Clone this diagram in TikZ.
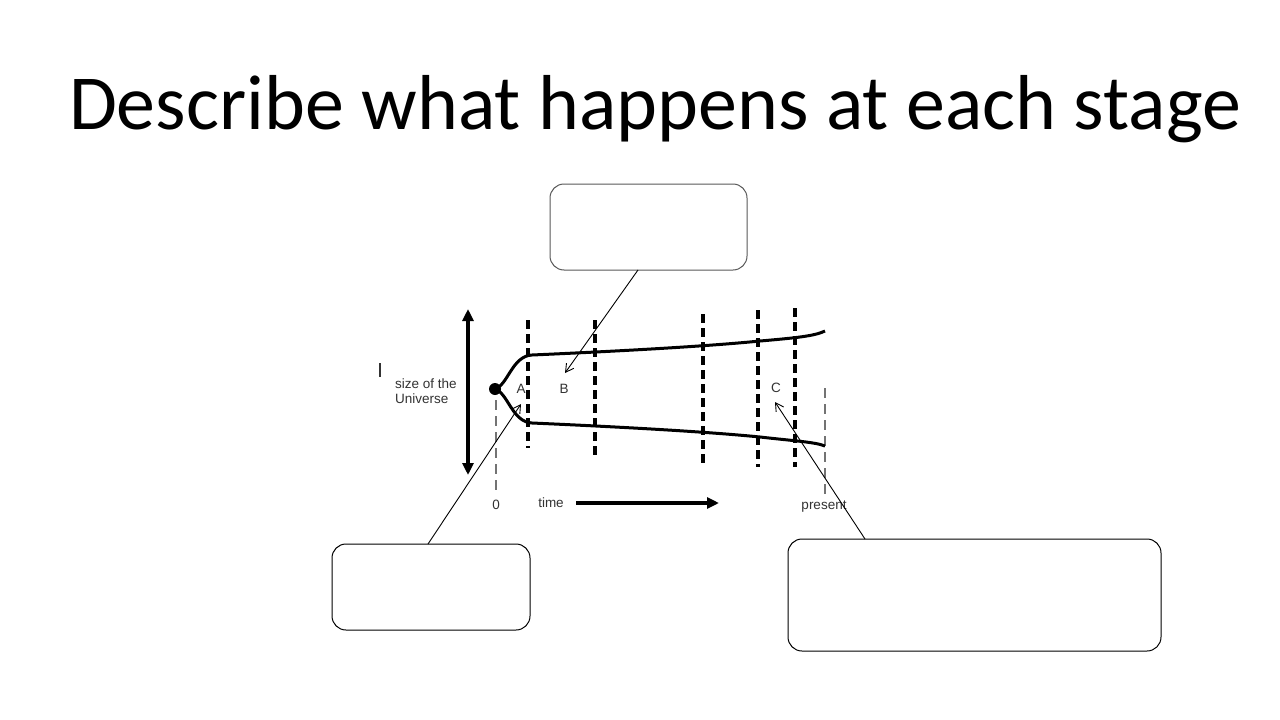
\documentclass[tikz,border=0pt]{standalone}
\usepackage{fontspec}
\setmainfont{Carlito}
\newfontfamily\diagfont{Liberation Sans}
\usetikzlibrary{arrows.meta}
\begin{document}
\begin{tikzpicture}[x=1pt,y=-1pt,
  answerbox/.style={draw, rounded corners=14pt, line width=1pt, inner sep=0pt},
  pointer/.style={black, line width=0.9pt, -{Straight Barb[length=8pt,width=9pt]}},
  stageline/.style={black, line width=3.2pt, dash pattern=on 9pt off 5pt},
  markline/.style={black!55, line width=1.2pt, dash pattern=on 10pt off 6pt},
  curve/.style={black, line width=3pt},
  lbl/.style={font=\diagfont\fontsize{13.5}{15.5}\selectfont, text=black!80, inner sep=0pt},
  thickarrow/.style={black, line width=3.2pt, -{Triangle[length=12pt,width=11pt]}}
]
\useasboundingbox (0,0) rectangle (1280,720);
\fill[white] (0,0) rectangle (1280,720);

% title
\node[anchor=base, inner sep=0pt, font=\fontsize{77.9}{94}\selectfont] (title) at (655,129) {Describe what happens at each stage};

% answer boxes
\node[answerbox, draw=black!65, minimum width=197pt, minimum height=86pt] (topbox) at (648.5,227) {};
\node[answerbox, minimum width=198pt, minimum height=86pt] (leftbox) at (431,587) {};
\node[answerbox, minimum width=373pt, minimum height=112pt] (rightbox) at (974.5,595) {};

% diagram: size arrow
\coordinate (sizetop) at (468,309);
\coordinate (sizebot) at (468,475);
\draw[black, line width=3.2pt, {Triangle[length=12pt,width=11pt]}-{Triangle[length=12pt,width=11pt]}] (sizetop) -- (sizebot);
\draw[black!80, line width=1.2pt] (380,363) -- (380,377);
\node[lbl, align=left, anchor=west] (sizelbl) at (395,391) {size of the\\Universe};

% thin grey markers
\coordinate (zt) at (496,400); \coordinate (zb) at (496,494);
\draw[markline] (zt) -- (zb);
\coordinate (pt) at (825,388); \coordinate (pb) at (825,497);
\draw[markline] (pt) -- (pb);

% stage lines
\foreach \x/\a/\b in {528/320/448, 595/320/458, 703/314/464, 758/310/467, 795/308/467}{
  \draw[stageline] (\x,\a) -- (\x,\b);
}

% universe curves
\node[circle, fill=black, minimum size=12pt, inner sep=0pt] (bang) at (495,389) {};
\draw[curve] (bang.center) .. controls (508,385) and (512,356) .. (532,355)
  .. controls (600,352) and (700,347) .. (760,341)
  .. controls (795,338) and (815,336) .. (825,331);
\draw[curve] (bang.center) .. controls (508,393) and (512,422) .. (532,423)
  .. controls (600,426) and (700,431) .. (760,437)
  .. controls (795,441) and (815,442) .. (825,446);

% labels
\node[lbl] (la) at (521,389) {A};
\node[lbl] (lb) at (564,389) {B};
\node[lbl] (lc) at (776,388) {C};
\node[lbl] (zero) at (496,505) {0};
\node[lbl] (timelbl) at (551,503) {time};
\node[lbl] (present) at (824,507) {present};

\coordinate (ts) at (576,503);
\coordinate (te) at (719,503);
\draw[thickarrow] (ts) -- (te);

% pointers
\coordinate (ptrB) at (565,373);
\coordinate (ptrA) at (521,404);
\coordinate (ptrC) at (775,402);
\coordinate (topfoot) at (638,270);
\coordinate (leftfoot) at (428,544);
\coordinate (rightfoot) at (865,539);
\draw[pointer] (topfoot) -- (ptrB);
\draw[pointer] (leftfoot) -- (ptrA);
\draw[pointer] (rightfoot) -- (ptrC);
\end{tikzpicture}
\end{document}
